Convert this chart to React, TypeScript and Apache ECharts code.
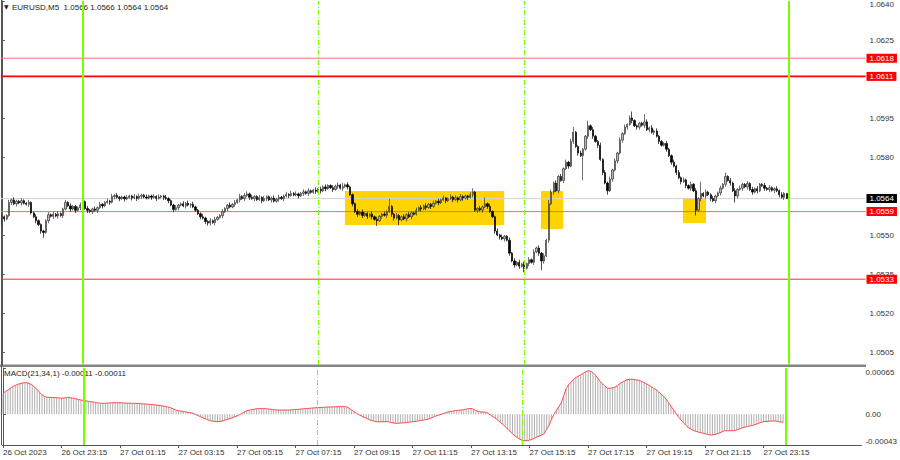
import { useEffect, useRef } from "react";
import * as echarts from "echarts";

// ---------------- data ----------------
const BASE_PRICE = 1.05; // candle values are pips above this price
const PIP = 0.0001;
const MACD_UNIT = 0.00001; // MACD values are in points

const FIRST_OPEN = 56.5;
const CLOSES = [
  57.0, 56.2, 57.5, 62.5, 63.5, 62.0, 63.0, 62.3, 63.2, 62.2,
  61.8, 62.5, 58.5, 57.0, 55.5, 54.0, 51.5, 51.0, 55.5, 57.8,
  57.2, 58.0, 57.3, 58.2, 57.5, 60.0, 62.5, 61.2, 60.0, 61.0,
  59.5, 60.5, 61.5, 62.8, 60.2, 59.5, 59.0, 60.0, 59.5, 60.5,
  61.8, 61.2, 62.5, 63.0, 62.6, 64.8, 65.2, 64.5, 64.0, 64.6,
  63.9, 64.4, 65.0, 64.3, 64.8, 64.1, 64.9, 65.3, 64.6, 64.2,
  65.0, 64.5, 64.8, 64.1, 64.6, 65.0, 64.4, 64.0, 63.2, 61.5,
  59.8, 60.5, 61.5, 62.0, 61.2, 62.2, 61.5, 61.8, 60.8, 59.5,
  58.2, 57.0, 56.5, 55.2, 54.6, 55.5, 54.8, 56.0, 56.8, 57.5,
  59.0, 60.2, 61.5, 60.8, 61.8, 62.5, 63.5, 64.8, 64.0, 65.2,
  65.8, 64.5, 64.0, 64.8, 63.6, 64.4, 63.2, 64.0, 64.7, 63.5,
  64.2, 63.0, 63.8, 64.5, 64.0, 65.0, 65.6, 65.2, 66.0, 65.4,
  65.8, 65.1, 66.0, 66.6, 66.0, 67.0, 66.4, 67.3, 66.8, 67.6,
  67.0, 68.5, 67.8, 69.0, 68.2, 67.5, 68.8, 69.2, 68.0, 68.6,
  69.3, 68.5, 65.5, 62.0, 59.0, 58.0, 58.8, 57.5, 58.3, 57.2,
  58.0, 57.0, 56.0, 55.5, 57.2, 58.0, 57.6, 59.0, 61.0, 58.0,
  56.5, 57.5, 55.8, 57.0, 56.2, 57.8, 57.0, 58.5, 58.0, 59.5,
  60.5, 60.0, 61.2, 60.6, 61.8, 61.0, 62.2, 63.0, 62.4, 63.5,
  64.2, 63.2, 64.0, 64.6, 63.6, 64.3, 63.5, 64.8, 64.2, 65.0,
  64.5, 65.5, 66.5, 59.5, 60.2, 59.6, 60.8, 62.0, 61.0, 59.0,
  57.0, 51.5, 50.0, 49.2, 48.5, 49.5, 48.0, 43.0, 40.0, 38.5,
  39.5, 38.0, 38.8, 37.2, 39.0, 40.5, 39.5, 43.5, 45.0, 43.0,
  40.0, 42.0, 48.0, 62.0, 66.5, 70.0, 67.0, 72.5, 71.0, 75.5,
  78.0, 76.5, 86.0, 89.5, 84.0, 81.5, 80.5, 83.0, 88.0, 92.0,
  90.5, 88.0, 86.0, 84.5, 79.0, 74.0, 70.0, 67.0, 71.5, 75.0,
  78.5, 81.5, 86.5, 89.0, 91.5, 92.5, 95.0, 94.0, 92.0, 91.5,
  93.0, 92.2, 93.5, 90.5, 91.2, 89.5, 90.0, 88.0, 86.0, 84.5,
  85.2, 83.0, 80.5, 78.0, 76.5, 74.0, 72.0, 70.5, 71.2, 69.0,
  68.0, 69.5, 67.0, 59.5, 64.0, 66.0, 65.0, 66.5, 65.5, 64.0,
  63.2, 65.0, 66.2, 68.0, 69.5, 72.5, 71.0, 70.0, 67.0, 65.0,
  67.5, 68.0, 69.5, 68.5, 69.8, 67.5, 66.5, 67.8, 67.0, 69.5,
  69.0, 68.0, 67.5, 68.2, 67.2, 67.8, 67.0, 65.5, 64.5, 66.0,
  64.0,
];
// upper / lower shadow length of each bar, in half pips (base-36 digits)
const WICK_UP_HALF_PIPS = [
  "2112121121", "1211211112", "1212112121", "1122121121", "2112121211",
  "1211212112", "1121211211", "1211212121", "1121121211", "2112121212",
  "2121121211", "1212112121", "2112121121", "2121121213", "1211121211",
  "1212112161", "1211212112", "1212112121", "2112121211", "1231121512",
  "1121211212", "1212121212", "1213212121", "2124112114", "1211212121",
  "2121212511", "1162121211", "1211212121", "1212191211", "2112131212",
  "1211212121", "1212112121", "0",
].join("");
const WICK_DOWN_HALF_PIPS = [
  "6211212121", "1211212412", "1212121121", "2121121212", "1211212121",
  "2112121211", "1212112121", "2121121211", "1212221211", "2121121212",
  "1212112121", "2112121211", "1212121121", "2121121212", "1212121212",
  "1214121212", "2141121211", "1212121121", "1211212121", "2121212121",
  "1212121212", "1213121212", "7212121212", "1212121j12", "1212121312",
  "1212121212", "2121212121", "1212121212", "1214121212", "1212121215",
  "2121212121", "1212121212", "0",
].join("");

const MACD_MAIN = [
  29.5, 32, 34, 36.5, 39, 40.5, 42, 43, 44, 44.4,
  44, 43, 41, 38, 35, 31, 27.5, 25, 24, 23.8,
  23.6, 23.5, 23.4, 23, 22.6, 23, 23.6, 23.9, 23, 22.4,
  21.6, 20.8, 20.1, 19.5, 19, 18.2, 17.7, 17.2, 16.6, 16,
  15.5, 15.4, 15.6, 15.8, 16, 16.2, 16.3, 16.3, 16.2, 16,
  15.8, 15.7, 15.6, 15.5, 15.5, 15.3, 15, 14.8, 14.5, 14.3,
  14.1, 13.8, 13.4, 13, 12.5, 12, 11.4, 10.8, 10, 8.8,
  7.4, 5.8, 5, 4.5, 4, 3.4, 2.8, 2.3, 1.2, -0.2,
  -1.8, -3.3, -4.8, -6.2, -7.6, -8.9, -9.6, -10.1, -10.3, -10,
  -9.2, -8.2, -7, -6, -4.9, -3.6, -2.3, -0.5, 1.3, 3.2,
  5, 5.8, 6.5, 7.2, 7.9, 8, 8, 8, 7.9, 7.5,
  7, 6.5, 6.1, 6, 6, 6, 6.1, 6.1, 6.2, 6.5,
  6.8, 7, 7.3, 7.7, 8, 8.3, 8.6, 8.9, 9.2, 9.4,
  9.6, 9.8, 10, 10.2, 10.3, 10.4, 10.5, 10.6, 10.7, 10.8,
  10.8, 10.5, 8.5, 6, 3.7, 1.5, -0.5, -2.3, -4, -5.5,
  -7, -8.3, -9.4, -10.3, -10.5, -10.4, -10.3, -10.3, -10.4, -11.3,
  -12, -12.6, -12.5, -12.2, -12, -11.7, -11.3, -10.9, -10.4, -9.9,
  -9.4, -8.9, -8.3, -7.7, -7.1, -6, -4.6, -3.2, -1.8, -0.8,
  0.4, 1.6, 2.8, 3.8, 4.3, 4.8, 5.3, 5.7, 6.1, 6.7,
  7.3, 8, 8.4, 7, 5.2, 3.8, 3.4, 3.2, 2.9, 1.2,
  -1, -3.3, -5.5, -8.3, -11.2, -14.3, -17.3, -20.6, -23.9, -27.2,
  -30.4, -32.6, -34.8, -36.5, -37, -36.8, -36.2, -35, -33.6, -31.8,
  -30.5, -28.8, -27, -21, -15.5, -7, 0, 5.5, 11, 16,
  26, 36, 41.5, 45, 49, 51.5, 53.5, 55.5, 57.5, 59.5,
  61.2, 60.5, 58.5, 55, 50.5, 46, 42.5, 39, 36.5, 36.6,
  37.2, 38, 40, 43, 45, 46.8, 48.5, 49.2, 49.2, 48.8,
  48.3, 47.3, 46, 44.6, 42.8, 40.8, 38.6, 36.2, 34.5, 31.5,
  28.5, 25, 21.5, 16.5, 11.5, 6.5, 1.5, -3.2, -7.5, -11.2,
  -15, -18.3, -20.3, -22.3, -23.7, -24.6, -25.5, -26.3, -27.2, -28.2,
  -29, -28.8, -28.2, -27.4, -26, -24.3, -23, -23, -23, -23,
  -22.9, -21.8, -20.5, -19.3, -18.2, -17.3, -16.5, -15.8, -15, -13.8,
  -12.6, -11.2, -10.3, -10, -9.7, -9.5, -9.3, -9.4, -10, -10.6,
  -11,
];

const TIME_TICK_BARS = [0, 24, 48, 72, 96, 120, 144, 168, 192, 216, 240, 264, 288, 312];
const TIME_TICK_LABELS = [
  "26 Oct 2023", "26 Oct 23:15", "27 Oct 01:15", "27 Oct 03:15", "27 Oct 05:15",
  "27 Oct 07:15", "27 Oct 09:15", "27 Oct 11:15", "27 Oct 13:15", "27 Oct 15:15",
  "27 Oct 17:15", "27 Oct 19:15", "27 Oct 21:15", "27 Oct 23:15",
];
const PRICE_TICKS = [1.0505, 1.052, 1.0535, 1.055, 1.058, 1.0595, 1.0625, 1.064];
const MACD_TICKS = [0.00065, 0, -0.00043];
const LEVELS = [1.0618, 1.0611, 1.0559, 1.0533];
const BID = 1.0564;
const DAY_SEPARATOR_BARS = [33, 321];
const EVENT_BARS = [129, 213];
// [fromBar, toBar, lowPrice, highPrice]
const ZONES = [
  [139.9, 204.8, 1.05538, 1.05669],
  [219.8, 228.8, 1.05523, 1.05669],
  [277.7, 287.1, 1.05546, 1.05642],
];

const FONT = '"Liberation Sans", Arial, sans-serif';

export default function App() {
  const ref = useRef<HTMLDivElement>(null);

  useEffect(() => {
    if (!ref.current) return;
    const chart = echarts.init(ref.current, null, { renderer: "svg" });

    const X_MIN = -0.326;
    const X_MAX = 352.13;
    const GREEN = "#7CFC00";

    const toPrice = (p: number) => +(BASE_PRICE + p * PIP).toFixed(5);
    const candles = CLOSES.map((c, i) => {
      const o = i === 0 ? FIRST_OPEN : CLOSES[i - 1];
      const up = parseInt(WICK_UP_HALF_PIPS[i] ?? "1", 36) / 2;
      const dn = parseInt(WICK_DOWN_HALF_PIPS[i] ?? "1", 36) / 2;
      return [i, toPrice(o), toPrice(c), toPrice(Math.min(o, c) - dn), toPrice(Math.max(o, c) + up)];
    });
    const macd = MACD_MAIN.map((v, i) => [i, +(v * MACD_UNIT).toFixed(6)]);
    const last = candles[candles.length - 1];
    const legendText = `EURUSD,M5  ${last[1].toFixed(4)} ${last[4].toFixed(4)} ${last[3].toFixed(4)} ${last[2].toFixed(4)}`;
    const lastMacd = macd[macd.length - 1][1].toFixed(5);

    const levelColors = ["#f47272", "#ff0000", "#f46a6a", "#ff2a2a"];
    const levelWidths = [1, 1.6, 1, 1];

    const levelSeries = (price: number, color: string, width: number, tagBg: string, z: number) => ({
      type: "line",
      xAxisIndex: 0,
      yAxisIndex: 0,
      data: [
        [X_MIN, price],
        [X_MAX, price],
      ],
      symbol: "none",
      showSymbol: false,
      silent: true,
      z,
      lineStyle: { color, width, type: "solid" },
      endLabel: {
        show: true,
        distance: 1,
        formatter: (p: any) => Number(p.value[1]).toFixed(4),
        color: "#fff",
        backgroundColor: tagBg,
        padding: [1, 3, 0, 3],
        fontSize: 8,
        lineHeight: 8,
        fontFamily: FONT,
      },
    });

    const verticalLines = [
      ...DAY_SEPARATOR_BARS.map((b) => ({
        xAxis: b,
        lineStyle: { color: GREEN, width: 2, type: "solid" },
        label: { show: false },
      })),
      ...EVENT_BARS.map((b) => ({
        xAxis: b,
        lineStyle: { color: GREEN, width: 1, type: [5, 2, 1, 2] },
        label: { show: false },
      })),
    ];

    const labelStyle = { fontSize: 8, color: "#333", fontFamily: FONT };

    const option: any = {
      animation: false,
      textStyle: { fontFamily: FONT },
      grid: [
        { left: 1, right: 34.5, top: 1, height: 364 },
        { left: 1, right: 34.5, top: 368, height: 77 },
      ],
      xAxis: [
        { type: "value", gridIndex: 0, min: X_MIN, max: X_MAX, show: false, splitLine: { show: false } },
        {
          type: "value",
          gridIndex: 1,
          min: X_MIN,
          max: X_MAX,
          axisLine: { show: true, onZero: false, lineStyle: { color: "#555" } },
          axisTick: { show: true, customValues: TIME_TICK_BARS, length: 3, lineStyle: { color: "#555" } },
          axisLabel: {
            customValues: TIME_TICK_BARS,
            formatter: (v: number) => TIME_TICK_LABELS[TIME_TICK_BARS.indexOf(Math.round(v))] ?? "",
            align: "left",
            margin: 3,
            ...labelStyle,
          },
          splitLine: { show: false },
        },
      ],
      yAxis: [
        {
          type: "value",
          gridIndex: 0,
          position: "right",
          min: 1.05,
          max: 1.064,
          axisLine: { show: true, lineStyle: { color: "#555" } },
          axisTick: { show: true, customValues: PRICE_TICKS, length: 3, lineStyle: { color: "#555" } },
          axisLabel: {
            customValues: PRICE_TICKS,
            margin: 4,
            ...labelStyle,
            formatter: (v: number) => (v > 1.0639 ? `{top|${v.toFixed(4)}}` : v.toFixed(4)),
            rich: { top: { padding: [6, 0, 0, 0], ...labelStyle } },
          },
          splitLine: { show: false },
        },
        {
          type: "value",
          gridIndex: 1,
          position: "right",
          min: -0.00043,
          max: 0.00065,
          axisLine: { show: true, lineStyle: { color: "#555" } },
          axisTick: { show: true, customValues: MACD_TICKS, length: 3, lineStyle: { color: "#555" } },
          axisLabel: {
            customValues: MACD_TICKS,
            margin: 4,
            ...labelStyle,
            formatter: (v: number) =>
              v > 0.0006 ? "{t|0.00065}" : v < -0.0004 ? "{b|-0.00043}" : "0.00",
            rich: {
              t: { padding: [9, 0, 0, 0], ...labelStyle },
              b: { padding: [0, 0, 8, 0], ...labelStyle },
            },
          },
          splitLine: { show: false },
        },
      ],
      series: [
        {
          type: "line",
          xAxisIndex: 0,
          yAxisIndex: 0,
          data: [],
          z: 1,
          silent: true,
          markArea: {
            silent: true,
            itemStyle: { color: "#FFD400", opacity: 1, borderWidth: 0 },
            data: ZONES.map(([x0, x1, y0, y1]) => [
              { xAxis: x0, yAxis: y0 },
              { xAxis: x1, yAxis: y1 },
            ]),
          },
        },
        {
          type: "line",
          xAxisIndex: 0,
          yAxisIndex: 0,
          data: [],
          z: 2,
          silent: true,
          markLine: {
            silent: true,
            precision: 5,
            symbol: ["none", "none"],
            data: verticalLines,
          },
        },
        levelSeries(BID, "#d2d2d2", 1, "#000000", 2),
        ...LEVELS.map((lv, k) => levelSeries(lv, levelColors[k], levelWidths[k], "#ff0000", 2)),
        {
          type: "candlestick",
          xAxisIndex: 0,
          yAxisIndex: 0,
          z: 3,
          barWidth: 1.8,
          encode: { x: 0, y: [1, 2, 3, 4] },
          data: candles,
          itemStyle: {
            color: "#b8b8b8",
            color0: "#000000",
            borderColor: "#333333",
            borderColor0: "#000000",
            borderWidth: 0.7,
          },
        },
        {
          type: "bar",
          xAxisIndex: 1,
          yAxisIndex: 1,
          data: macd,
          barWidth: 1,
          itemStyle: { color: "#afafaf" },
          z: 2,
        },
        {
          type: "line",
          xAxisIndex: 1,
          yAxisIndex: 1,
          data: macd,
          symbol: "none",
          showSymbol: false,
          lineStyle: { color: "#ff4a4a", width: 1 },
          z: 3,
        },
        {
          type: "line",
          xAxisIndex: 1,
          yAxisIndex: 1,
          data: [],
          z: 4,
          silent: true,
          markLine: { silent: true, precision: 5, symbol: ["none", "none"], data: verticalLines },
        },
      ],
      graphic: [
        { type: "rect", shape: { x: 0, y: 364.5, width: 866, height: 2.5 }, style: { fill: "#858585" }, silent: true },
        { type: "line", shape: { x1: 1.5, y1: 0, x2: 1.5, y2: 445 }, style: { stroke: "#555", lineWidth: 1 }, silent: true },
        { type: "text", x: 4, y: 3, style: { text: "▼", font: `6px "DejaVu Sans"`, fill: "#222" }, silent: true },
        { type: "text", x: 12, y: 3, style: { text: legendText, font: `8px ${FONT}`, fill: "#222" }, silent: true },
        {
          type: "text",
          x: 4,
          y: 369,
          style: { text: `MACD(21,34,1) ${lastMacd} ${lastMacd}`, font: `8px ${FONT}`, fill: "#222" },
          silent: true,
        },
      ],
    };

    chart.setOption(option);
    return () => chart.dispose();
  }, []);

  return (
    <div
      ref={ref}
      style={{ position: "fixed", left: 0, top: 0, width: 900, height: 460, background: "#fff" }}
    />
  );
}
